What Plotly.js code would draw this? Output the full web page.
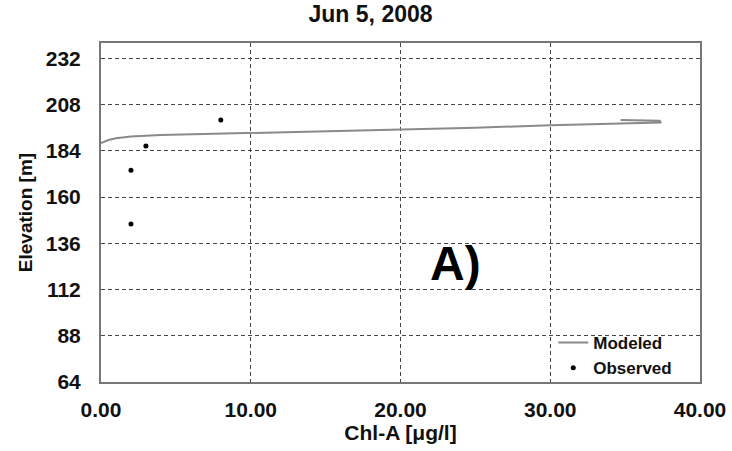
<!DOCTYPE html>
<html>
<head>
<meta charset="utf-8">
<script src="https://cdn.plot.ly/plotly-3.0.1.min.js"></script>
<style>body{margin:0;padding:0;background:#fff;}#chart{width:732px;height:451px;}</style>
</head>
<body>
<div id="chart"></div>
<script>
var modeledChl = [0, 0.5, 1, 2, 4, 10, 20, 25, 30, 35, 37.4, 37.3, 34.7];
var modeledElev = [188, 189.6, 190.5, 191.5, 192.2, 193.3, 195, 196, 197.3, 198.2, 198.7, 199.6, 200];
var observedChl = [8, 3, 2, 2];
var observedElev = [200, 186.5, 174, 146];
var yTicks = [64, 88, 112, 136, 160, 184, 208, 232];
var xTicks = [0, 10, 20, 30, 40];
var xTickLabels = ["0.00", "10.00", "20.00", "30.00", "40.00"];

var fnt = {family: "Liberation Sans, Arial, sans-serif", color: "#111", weight: "bold"};
function f(size, extra) { return Object.assign({}, fnt, {size: size}, extra || {}); }

var traces = [
  {x: modeledChl, y: modeledElev, mode: "lines", name: "Modeled",
   line: {color: "#8a8a8a", width: 2}},
  {x: observedChl, y: observedElev, mode: "markers", name: "Observed",
   marker: {color: "#000", size: 5}}
];

var layout = {
  width: 732, height: 451,
  margin: {l: 101, r: 32, t: 43, b: 69},
  paper_bgcolor: "#fff", plot_bgcolor: "#fff",
  title: {text: "Jun 5, 2008", xref: "paper", x: 0.45, xanchor: "center", yref: "container", y: 0.988, yanchor: "top",
          font: f(23)},
  showlegend: true,
  legend: {x: 0.755, xanchor: "left", y: -0.012, yanchor: "bottom",
           bgcolor: "rgba(255,255,255,0)", font: f(17),
           tracegroupgap: 0, itemwidth: 30},
  xaxis: {range: [0, 40], tickvals: xTicks, ticktext: xTickLabels,
          showgrid: true, gridcolor: "#444", griddash: "4px,3px", gridwidth: 1,
          showline: true, linecolor: "#777", linewidth: 2, mirror: true,
          zeroline: false, ticks: "", tickfont: f(21), ticklabelstandoff: 8,
          title: {text: "Chl-A [μg/l]", font: f(21), standoff: 0}},
  yaxis: {range: [64, 240], tickvals: yTicks,
          showgrid: true, gridcolor: "#444", griddash: "4px,3px", gridwidth: 1,
          showline: true, linecolor: "#777", linewidth: 2, mirror: true,
          zeroline: false, ticks: "", tickfont: f(21), ticklabelstandoff: 14,
          title: {text: "Elevation [m]", font: f(19), standoff: 8}},
  annotations: [
    {text: "A)", xref: "paper", yref: "paper", x: 0.591, y: 0.351, xanchor: "center", yanchor: "middle",
     showarrow: false, font: f(48, {color: "#000"})}
  ]
};

Plotly.newPlot("chart", traces, layout, {displayModeBar: false, staticPlot: true});
</script>
</body>
</html>
